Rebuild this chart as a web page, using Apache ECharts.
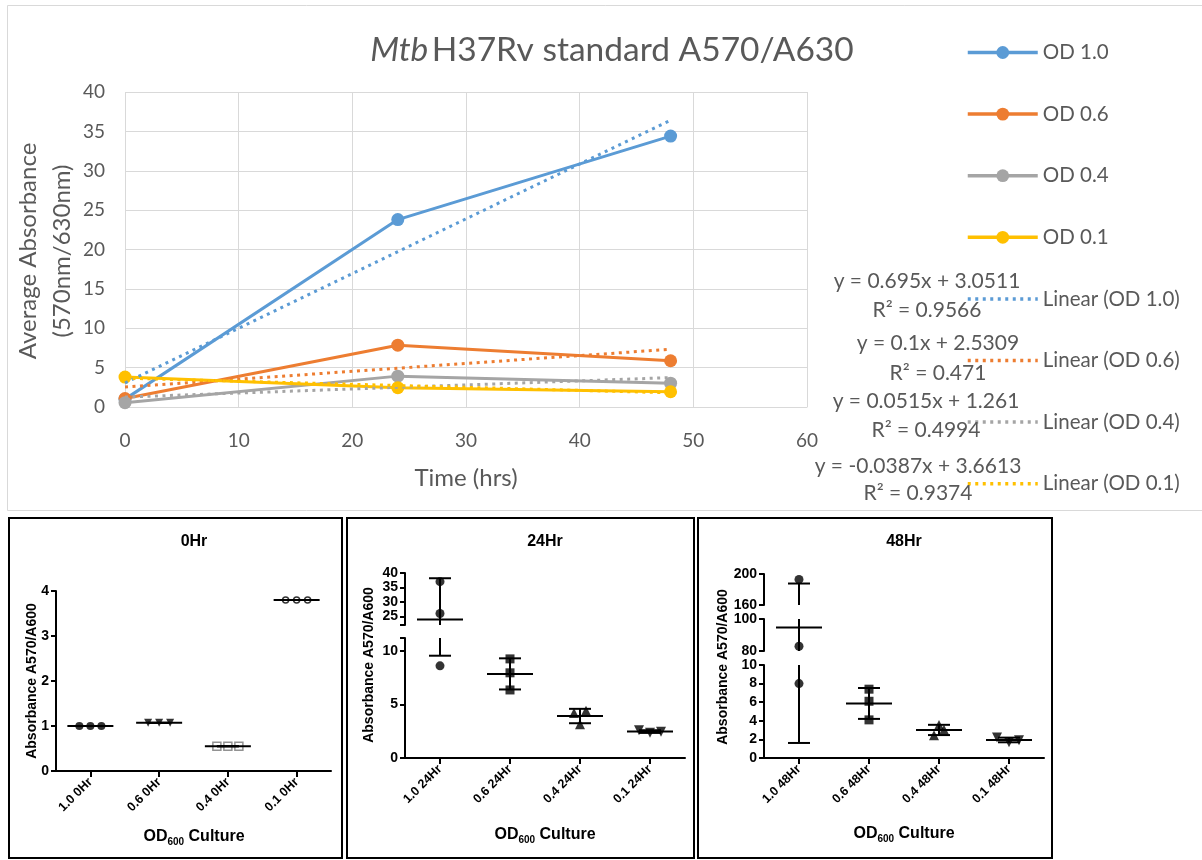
<!DOCTYPE html>
<html><head><meta charset="utf-8">
<script src="https://cdn.jsdelivr.net/npm/echarts@6/dist/echarts.min.js"></script>
<style>html,body{margin:0;padding:0;background:#fff}#c{width:1202px;height:860px}</style>
</head><body><div id="c"></div>
<script>
// ---------- top chart data ----------
const timeHrs = [0, 24, 48];
const od10 = [1.0, 23.8, 34.4];
const od06 = [1.07, 7.85, 5.87];
const od04 = [0.55, 3.92, 3.02];
const od01 = [3.8, 2.46, 1.94];
const trendX = [0, 48];
const trend10 = [3.05, 36.41];
const trend06 = [2.53, 7.33];
const trend04 = [1.26, 3.73];
const trend01 = [3.66, 1.80];
const seriesNames = ['OD 1.0', 'OD 0.6', 'OD 0.4', 'OD 0.1'];
const trendNames = ['Linear (OD 1.0)', 'Linear (OD 0.6)', 'Linear (OD 0.4)', 'Linear (OD 0.1)'];
const eqLabels = ['y = 0.695x + 3.0511', 'y = 0.1x + 2.5309', 'y = 0.0515x + 1.261', 'y = -0.0387x + 3.6613'];
const r2Labels = ['R² = 0.9566', 'R² = 0.471', 'R² = 0.4994', 'R² = 0.9374'];

// ---------- bottom panels data ----------
const cats0 = ['1.0 0Hr', '0.6 0Hr', '0.4 0Hr', '0.1 0Hr'];
const cats24 = ['1.0 24Hr', '0.6 24Hr', '0.4 24Hr', '0.1 24Hr'];
const cats48 = ['1.0 48Hr', '0.6 48Hr', '0.4 48Hr', '0.1 48Hr'];
const reps0 = [[1.0, 1.0, 1.0], [1.07, 1.07, 1.07], [0.55, 0.55, 0.55], [3.8, 3.8, 3.8]];
const reps24 = [[37, 26, 8.6], [9.25, 7.95, 6.35], [4.2, 3.15, 4.4], [2.6, 2.35, 2.45]];
const reps48 = [[193, 83, 8], [7.4, 6.1, 4.1], [2.45, 3.55, 3.05], [2.2, 1.7, 1.92]];
// axis segments (broken axes) and tick labels
const seg0 = [[0, 4]];
const seg24 = [[0, 11.2], [22, 40]];
const seg48 = [[0, 10], [80, 100], [160, 200]];
const ticks0 = [[0, 1, 2, 3, 4]];
const ticks24 = [[0, 5, 10], [25, 30, 35, 40]];
const ticks48 = [[0, 2, 4, 6, 8, 10], [80, 100], [160, 200]];

// ---------- styles ----------
const COLORS = ['#5B9BD5', '#ED7D31', '#A5A5A5', '#FFC000'];
const TXT = '#595959';
const FONT = 'Lato, "Open Sans", sans-serif';
const AFONT = '"Liberation Sans", Arial, sans-serif';
const GRID_C = '#d9d9d9';
const fillB = {color: '#000'};
const markers0 = [
  {symbol: 'circle', rotate: 0, size: 8, style: fillB},
  {symbol: 'triangle', rotate: 180, size: 8, style: fillB},
  {symbol: 'rect', rotate: 0, size: 8, style: {color: '#fff', borderColor: '#777', borderWidth: 1.5}},
  {symbol: 'circle', rotate: 0, size: 6, style: {color: 'rgba(0,0,0,0)', borderColor: '#000', borderWidth: 1.5}}
];
const markersN = [
  {symbol: 'circle', rotate: 0, size: 9, style: fillB},
  {symbol: 'rect', rotate: 0, size: 9, style: fillB},
  {symbol: 'triangle', rotate: 0, size: 10, style: fillB},
  {symbol: 'triangle', rotate: 180, size: 10, style: fillB}
];
const jit0 = [[-11, 0, 11], [-11, 0, 11], [-11, 0, 11], [-11, 0, 11]];
const jit24 = [[0, 0, 0], [0, 0, 0], [-6, 0, 6], [-11, 0, 11]];
const jit48 = [[0, 0, 0], [0, 0, 0], [-5, 0, 5], [-12, 0, 10]];

const grids = [
  {left: 125, top: 92, width: 682, height: 315},
  {left: 56, top: 591, width: 275, height: 180},
  {left: 405, top: 638, width: 280, height: 120},
  {left: 405, top: 573, width: 280, height: 52},
  {left: 764, top: 665, width: 280, height: 93},
  {left: 764, top: 619, width: 280, height: 32},
  {left: 764, top: 574, width: 280, height: 31}
];

const panels = [
  {cats: cats0, reps: reps0, segs: seg0, ticks: ticks0, grids: [1], markers: markers0, jit: jit0},
  {cats: cats24, reps: reps24, segs: seg24, ticks: ticks24, grids: [2, 3], markers: markersN, jit: jit24},
  {cats: cats48, reps: reps48, segs: seg48, ticks: ticks48, grids: [4, 5, 6], markers: markersN, jit: jit48}
];

function meanSd(arr) {
  const m = arr.reduce((a, b) => a + b, 0) / arr.length;
  const v = arr.reduce((a, b) => a + (b - m) * (b - m), 0) / (arr.length - 1);
  return [m, Math.sqrt(v)];
}

function errRender(params, api) {
  const c = api.value(0), m = api.value(1), s = api.value(2);
  const pm = api.coord([c, m]);
  const pt = api.coord([c, m + s]);
  const pb = api.coord([c, m - s]);
  const st = {stroke: '#000', lineWidth: 2};
  return {type: 'group', children: [
    {type: 'line', shape: {x1: pm[0] - 23, y1: pm[1], x2: pm[0] + 23, y2: pm[1]}, style: st},
    {type: 'line', shape: {x1: pm[0], y1: pt[1], x2: pm[0], y2: pb[1]}, style: st},
    {type: 'line', shape: {x1: pm[0] - 11, y1: pt[1], x2: pm[0] + 11, y2: pt[1]}, style: st},
    {type: 'line', shape: {x1: pm[0] - 11, y1: pb[1], x2: pm[0] + 11, y2: pb[1]}, style: st}
  ]};
}

const xAxes = [{
  gridIndex: 0, type: 'value', min: 0, max: 60, interval: 10,
  axisLine: {show: true, lineStyle: {color: GRID_C, width: 1}},
  axisTick: {show: false},
  splitLine: {show: true, lineStyle: {color: GRID_C, width: 1}},
  axisLabel: {color: TXT, fontSize: 19, fontFamily: FONT, margin: 24}
}];
const yAxes = [{
  gridIndex: 0, type: 'value', min: 0, max: 40, interval: 5,
  axisLine: {show: false}, axisTick: {show: false},
  splitLine: {show: true, lineStyle: {color: GRID_C, width: 1}},
  axisLabel: {color: TXT, fontSize: 19, fontFamily: FONT, margin: 20}
}];

const series = [];
const lineData = [od10, od06, od04, od01];
const trendData = [trend10, trend06, trend04, trend01];
lineData.forEach((arr, i) => {
  series.push({
    name: seriesNames[i], type: 'line', xAxisIndex: 0, yAxisIndex: 0,
    data: timeHrs.map((t, k) => [t, arr[k]]),
    symbol: 'circle', symbolSize: 13, showSymbol: true,
    lineStyle: {color: COLORS[i], width: 3}, itemStyle: {color: COLORS[i]},
    z: 3
  });
});
trendData.forEach((arr, i) => {
  series.push({
    name: trendNames[i], type: 'line', xAxisIndex: 0, yAxisIndex: 0,
    data: trendX.map((t, k) => [t, arr[k]]),
    symbol: 'none',
    lineStyle: {color: COLORS[i], width: 3, type: [3, 4.5]},
    itemStyle: {color: COLORS[i]},
    z: 4
  });
});

panels.forEach(p => {
  const stats = p.reps.map(r => meanSd(r));
  p.segs.forEach((seg, s) => {
    const gi = p.grids[s];
    const axisIdx = xAxes.length;
    const first = s === 0;
    xAxes.push({
      gridIndex: gi, type: 'category', data: p.cats, show: first,
      axisLine: {show: first, onZero: false, lineStyle: {color: '#000', width: 2}},
      axisTick: {show: first, alignWithLabel: true, length: 6, lineStyle: {color: '#000', width: 2}},
      axisLabel: {show: first, rotate: 45, interval: 0, fontSize: 12.5, fontWeight: 'bold', color: '#000', fontFamily: AFONT, margin: 9},
      splitLine: {show: false}
    });
    const tickVals = Array.from(new Set([seg[0]].concat(p.ticks[s], [seg[1]]))).sort((a, b) => a - b);
    yAxes.push({
      gridIndex: gi, type: 'value', min: seg[0], max: seg[1],
      axisLine: {show: true, lineStyle: {color: '#000', width: 2}},
      axisTick: {show: true, length: 5, customValues: tickVals, lineStyle: {color: '#000', width: 2}},
      axisLabel: {customValues: p.ticks[s], fontSize: 14, fontWeight: 'bold', color: '#000', fontFamily: AFONT, margin: 7},
      splitLine: {show: false}
    });
    const sData = [];
    p.reps.forEach((r, c) => {
      const mk = p.markers[c];
      r.forEach((v, k) => {
        sData.push({
          value: [c, v], symbol: mk.symbol, symbolRotate: mk.rotate, symbolSize: mk.size,
          symbolOffset: [p.jit[c][k], 0], itemStyle: mk.style
        });
      });
    });
    series.push({
      type: 'scatter', xAxisIndex: axisIdx, yAxisIndex: axisIdx, data: sData, clip: true, z: 2,
      emphasis: {disabled: true}
    });
    series.push({
      type: 'custom', xAxisIndex: axisIdx, yAxisIndex: axisIdx, clip: true, z: 3,
      renderItem: errRender,
      encode: {x: 0, y: 1},
      data: stats.map((st, c) => [c, st[0], st[1]])
    });
  });
});

const graphics = [
  {type: 'rect', shape: {x: 7.5, y: 5.5, width: 1200, height: 505}, style: {fill: 'none', stroke: GRID_C, lineWidth: 1}, z: -10},
  {type: 'rect', shape: {x: 9, y: 518, width: 333, height: 340}, style: {fill: 'none', stroke: '#000', lineWidth: 2}},
  {type: 'rect', shape: {x: 347, y: 518, width: 347, height: 340}, style: {fill: 'none', stroke: '#000', lineWidth: 2}},
  {type: 'rect', shape: {x: 698, y: 518, width: 354, height: 340}, style: {fill: 'none', stroke: '#000', lineWidth: 2}},
  {type: 'text', x: 612, y: 50, style: {
    text: '{i|Mtb} {n|H37Rv standard A570/A630}', align: 'center', verticalAlign: 'middle',
    rich: {i: {fontSize: 33.5, fontStyle: 'italic', fontFamily: FONT, fill: TXT}, n: {fontSize: 33.5, fontFamily: FONT, fill: TXT}}
  }},
  {type: 'text', x: 45, y: 251, rotation: Math.PI / 2, style: {
    text: 'Average Absorbance\n(570nm/630nm)', align: 'center', verticalAlign: 'middle',
    fontSize: 24, fontFamily: FONT, fill: TXT, lineHeight: 34
  }},
  {type: 'text', x: 466, y: 478, style: {text: 'Time (hrs)', align: 'center', verticalAlign: 'middle', fontSize: 24, fontFamily: FONT, fill: TXT}}
];
const eqPos = [[927, 281, 310], [938, 343, 373], [926, 401, 430], [918, 466, 493]];
eqLabels.forEach((t, i) => {
  graphics.push({type: 'text', x: eqPos[i][0], y: eqPos[i][1], style: {text: t, align: 'center', verticalAlign: 'middle', fontSize: 21, fontFamily: FONT, fill: TXT}, z: 10});
  graphics.push({type: 'text', x: eqPos[i][0], y: eqPos[i][2], style: {text: r2Labels[i], align: 'center', verticalAlign: 'middle', fontSize: 21, fontFamily: FONT, fill: TXT}, z: 10});
});
const panelTitles = ['0Hr', '24Hr', '48Hr'];
const panelTitlePos = [[194, 542], [545, 542], [904, 542]];
const yNamePos = [[32, 681], [369, 665], [723, 667]];
const xNamePos = [[194, 837], [545, 835], [904, 834]];
panelTitles.forEach((t, i) => {
  graphics.push({type: 'text', x: panelTitlePos[i][0], y: panelTitlePos[i][1], style: {text: t, align: 'center', verticalAlign: 'middle', fontSize: 16, fontWeight: 'bold', fontFamily: AFONT, fill: '#000'}});
  graphics.push({type: 'text', x: yNamePos[i][0], y: yNamePos[i][1], rotation: Math.PI / 2, style: {text: 'Absorbance A570/A600', align: 'center', verticalAlign: 'middle', fontSize: 14, fontWeight: 'bold', fontFamily: AFONT, fill: '#000'}});
  graphics.push({type: 'text', x: xNamePos[i][0], y: xNamePos[i][1], style: {
    text: '{a|OD}{s|600}{a| Culture}', align: 'center', verticalAlign: 'middle',
    rich: {
      a: {fontSize: 16, fontWeight: 'bold', fontFamily: AFONT, fill: '#000', lineHeight: 20, verticalAlign: 'middle'},
      s: {fontSize: 10, fontWeight: 'bold', fontFamily: AFONT, fill: '#000', lineHeight: 20, verticalAlign: 'bottom'}
    }
  }});
});

const legendData = seriesNames.map(n => ({name: n})).concat(
  trendNames.map(n => ({name: n, itemStyle: {opacity: 0, color: 'rgba(0,0,0,0)', borderWidth: 0}}))
);

const chart = echarts.init(document.getElementById('c'), null, {renderer: 'canvas'});
chart.setOption({
  animation: false,
  backgroundColor: '#fff',
  grid: grids,
  xAxis: xAxes,
  yAxis: yAxes,
  legend: {
    data: legendData, orient: 'vertical', left: 961, top: 37,
    itemWidth: 70, itemHeight: 16, itemGap: 40.6, selectedMode: false,
    lineStyle: {width: 3.5},
    textStyle: {color: TXT, fontSize: 20.5, fontFamily: FONT}
  },
  series: series,
  graphic: graphics
});
</script>
</body></html>
